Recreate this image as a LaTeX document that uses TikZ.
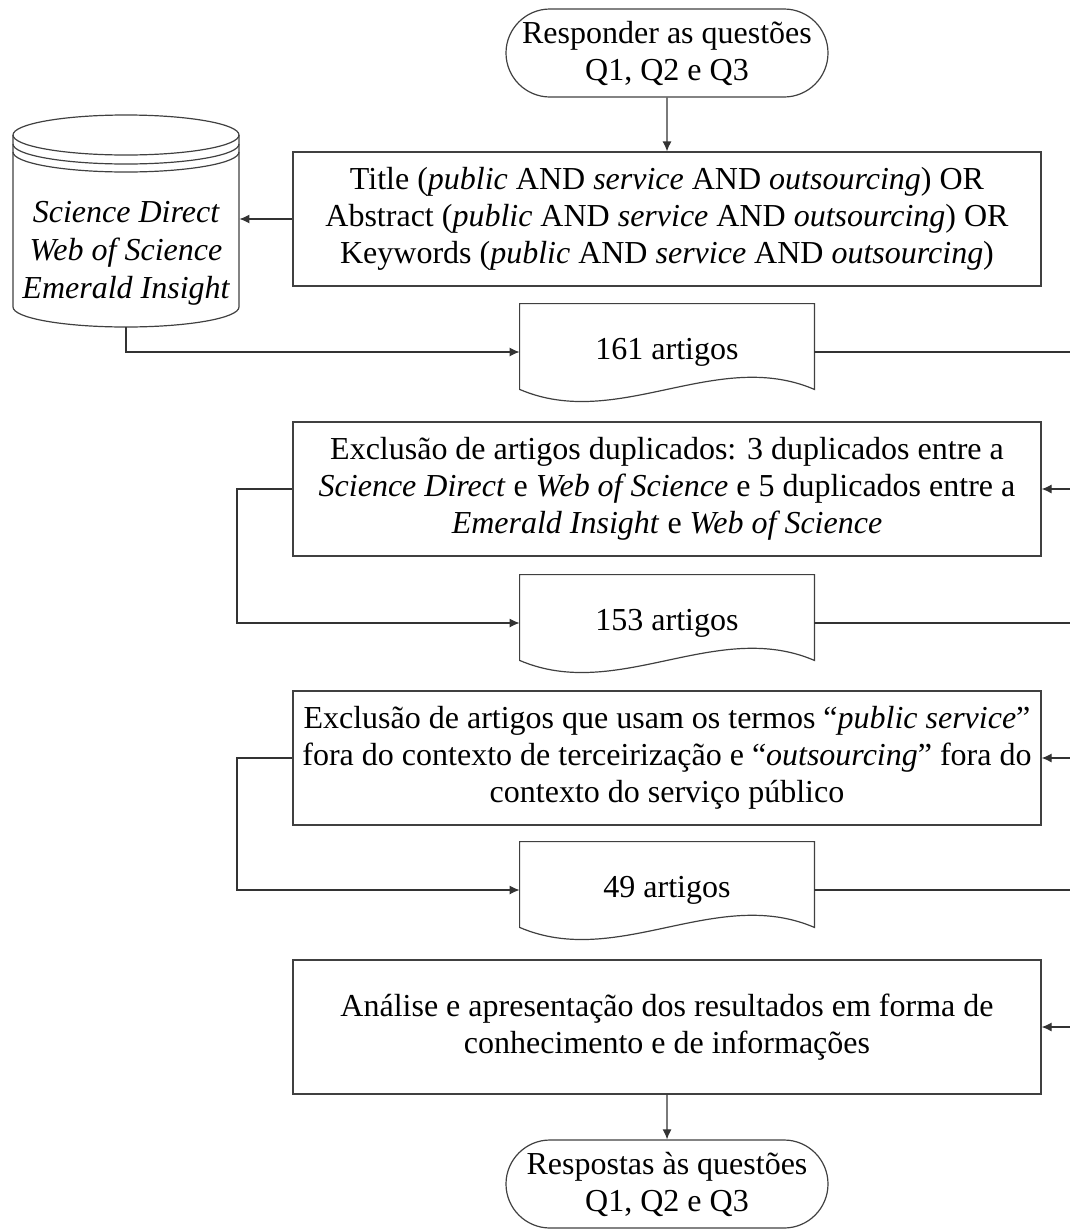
\documentclass[tikz,border=0pt]{standalone}
\usepackage{fontspec}
\setmainfont{Liberation Serif}
\usetikzlibrary{arrows.meta, shapes.misc}
\tikzset{>={Latex[length=5pt,width=4.5pt]}}
\tikzset{
	outline/.style={draw=black!75, line width=0.6pt},
	wire/.style={draw=black!80, line width=0.6pt},
	procbox/.style={shape=rectangle, outline, minimum width=374pt, minimum height=67pt, inner sep=0pt, align=center},
	docbox/.style={shape=rectangle, minimum width=147pt, minimum height=48pt, inner sep=0pt, align=center},
	termbox/.style={shape=rounded rectangle, outline, minimum width=161pt, minimum height=44pt, inner sep=0pt, align=center},
	dbbox/.style={shape=rectangle, minimum width=113pt, minimum height=74pt, inner sep=0pt, align=center, font=\fontsize{16}{19}\selectfont\itshape}
}

\begin{document}
\begin{tikzpicture}[x=0.5pt, y=-0.5pt, every node/.append style={font=\fontsize{16}{18.5}\selectfont}]
	\useasboundingbox (0,0) rectangle (1070,1232);
	% Flow nodes:
	\node[termbox] (start) at (667,53){Responder as questões\\Q1, Q2 e Q3};
	\node[procbox] (box1) at (667,219){Title (\emph{public} AND \emph{service} AND \emph{outsourcing}) OR\\Abstract (\emph{public} AND \emph{service} AND \emph{outsourcing}) OR\\Keywords (\emph{public} AND \emph{service} AND \emph{outsourcing})};
	\node[dbbox] (db) at (126,253){Science Direct\\Web of Science\\Emerald Insight};
	\node[docbox] (doc1) at (667,352){161 artigos};
	\node[procbox] (box2) at (667,489){Exclusão de artigos duplicados: 3 duplicados entre a\\\emph{Science Direct} e \emph{Web of Science} e 5 duplicados entre a\\\emph{Emerald Insight} e \emph{Web of Science}};
	\node[docbox] (doc2) at (667,623){153 artigos};
	\node[procbox] (box3) at (667,758){Exclusão de artigos que usam os termos “\emph{public service}”\\fora do contexto de terceirização e “\emph{outsourcing}” fora do\\contexto do serviço público};
	\node[docbox] (doc3) at (667,890){49 artigos};
	\node[procbox] (box4) at (667,1027){Análise e apresentação dos resultados em forma de\\conhecimento e de informações};
	\node[termbox] (stop) at (667,1184){Respostas às questões\\Q1, Q2 e Q3};
	% Document outlines with wavy bottom:
	\foreach \d in {doc1,doc2,doc3}
		\draw[outline] (\d.north west) -- (\d.north east) -- ([shift={(0,-11)}]\d.south east) .. controls ([shift={(-98,-53)}]\d.south east) and ([shift={(98,31)}]\d.south west) .. ([shift={(0,-11)}]\d.south west) -- cycle;
	% Database cylinder:
	\draw[outline] (126,135) ellipse [x radius=113, y radius=20];
	\draw[outline] (13,135) -- (13,307) arc[start angle=180, end angle=0, x radius=113, y radius=20] -- (239,135);
	\draw[outline] (13,144) arc[start angle=180, end angle=0, x radius=113, y radius=20];
	\draw[outline] (13,152) arc[start angle=180, end angle=0, x radius=113, y radius=20];
	% Rails for the loops:
	\coordinate (rrail) at (1073,0);
	\coordinate (lrail) at (237,0);
	% Connectors:
	\draw[wire, ->] (start) -- (box1);
	\draw[wire, ->] (box1.west) -- (box1.west -| db.east);
	\draw[wire, ->] (db.south) |- (doc1.west);
	\draw[wire, ->] (doc1.east) -| (rrail |- box2.east) -- (box2.east);
	\draw[wire, ->] (box2.west) -| (lrail |- doc2.west) -- (doc2.west);
	\draw[wire, ->] (doc2.east) -| (rrail |- box3.east) -- (box3.east);
	\draw[wire, ->] (box3.west) -| (lrail |- doc3.west) -- (doc3.west);
	\draw[wire, ->] (doc3.east) -| (rrail |- box4.east) -- (box4.east);
	\draw[wire, ->] (box4) -- (stop);
\end{tikzpicture}
\end{document}
